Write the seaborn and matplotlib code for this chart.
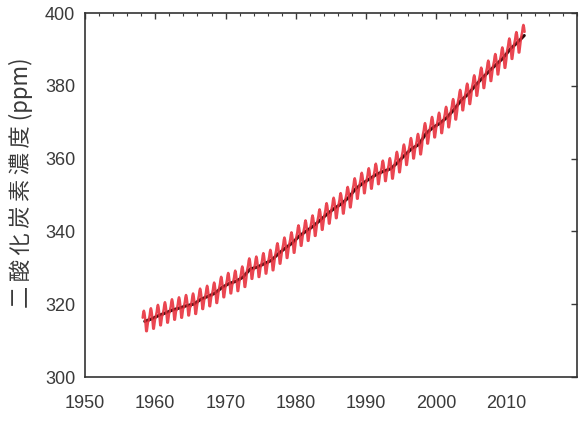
import numpy as np
import pandas as pd
import matplotlib
matplotlib.use("Agg")
import matplotlib.pyplot as plt
from matplotlib.ticker import MultipleLocator
import seaborn as sns

# annual mean CO2 at Mauna Loa (ppm), 1958-2012
years = list(range(1958, 2013))
annual_ppm = [315.3, 315.98, 316.91, 317.64, 318.45, 318.99, 319.62, 320.04, 321.38, 322.16,
              323.04, 324.62, 325.68, 326.32, 327.46, 329.68, 330.19, 331.12, 332.03, 333.84,
              335.41, 336.84, 338.76, 340.12, 341.48, 343.15, 344.85, 346.35, 347.61, 349.31,
              351.69, 353.20, 354.45, 355.70, 356.54, 357.21, 358.96, 360.97, 362.74, 363.88,
              366.84, 368.54, 369.71, 371.32, 373.45, 375.98, 377.70, 379.98, 382.09, 384.02,
              385.83, 387.64, 390.10, 391.85, 393.82]
# monthly departure from the annual mean (Jan..Dec)
month_offset = [-0.6, 0.2, 1.0, 2.3, 2.9, 2.3, 1.0, -1.0, -2.7, -2.7, -1.4, -0.2]

rows = []
for y, a in zip(years, annual_ppm):
    for m, off in enumerate(month_offset):
        if y == 1958 and m < 2:
            continue
        if y == 2012 and m > 6:
            continue
        rows.append({"time": y + (m + 0.5) / 12, "ppm": a + off})
monthly = pd.DataFrame(rows)
trend = pd.DataFrame({"time": [y + 0.5 for y in years], "ppm": annual_ppm})

sns.set_theme(style="white")
plt.rcParams["font.family"] = ["Liberation Sans", "Noto Sans CJK JP", "DejaVu Sans"]

fig = plt.figure(figsize=(5.81, 4.24), dpi=100)
ax = fig.add_axes([0.1463, 0.1108, 0.8468, 0.8585])

sns.lineplot(data=trend, x="time", y="ppm", ax=ax, color="#2a0a0a", linewidth=2.2, zorder=2)
sns.lineplot(data=monthly, x="time", y="ppm", ax=ax, color="#e8323e", linewidth=1.8,
             alpha=0.9, zorder=3)

ax.set_xlim(1950, 2020)
ax.set_ylim(300, 400)
ax.set_xticks(range(1950, 2011, 10))
ax.xaxis.set_minor_locator(MultipleLocator(2))
ax.yaxis.set_major_locator(MultipleLocator(20))
ax.tick_params(axis="both", which="both", direction="in", top=True, right=True,
               labelsize=13, labelcolor="#3a3a3a", colors="#3a3a3a")
ax.tick_params(which="major", length=4, width=1)
ax.tick_params(which="minor", length=2, width=0.8)
ax.tick_params(axis="x", pad=13)
ax.tick_params(axis="y", pad=7)
for s in ax.spines.values():
    s.set_color("#333333")
    s.set_linewidth(1.2)
    s.set_visible(True)

ax.set_xlabel("")
ax.set_ylabel("二\u2009酸\u2009化\u2009炭\u2009素\u2009濃\u2009度 (ppm)", fontsize=16, color="#3a3a3a",
              family=["Noto Sans CJK JP", "DejaVu Sans"])
ax.yaxis.set_label_coords(-0.106, 0.533)

fig.savefig("out.png", dpi=100)
